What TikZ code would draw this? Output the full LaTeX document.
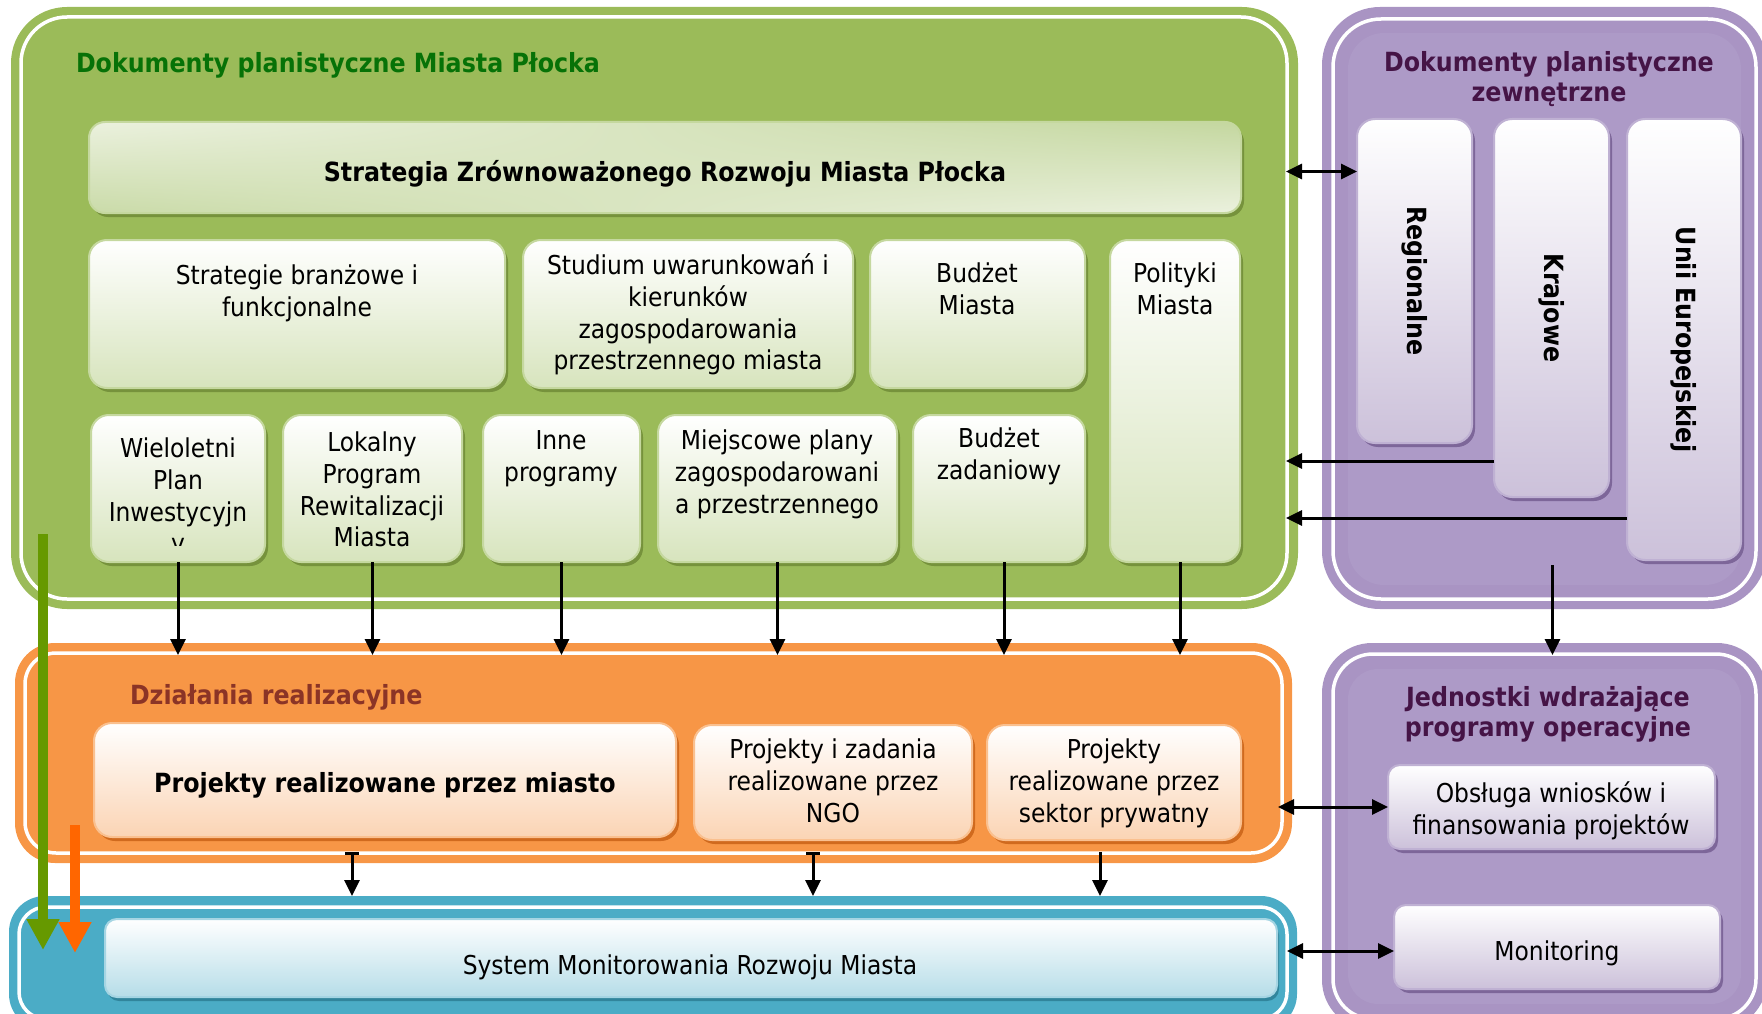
\documentclass[tikz,border=0pt]{standalone}
\usepackage{fontspec}
\setmainfont{DejaVu Sans Condensed}
\usetikzlibrary{arrows.meta,shadows,shadings,calc}
\definecolor{grn}{HTML}{9BBB59}
\definecolor{gbord}{HTML}{C5D89F}
\definecolor{gbot}{HTML}{D7E4BD}
\definecolor{gshad}{HTML}{76923C}
\definecolor{stlight}{HTML}{EBF1DE}
\definecolor{stdark}{HTML}{C4D79F}
\definecolor{org}{HTML}{F79646}
\definecolor{obord}{HTML}{FAC08F}
\definecolor{obot}{HTML}{FBD4B4}
\definecolor{oshad}{HTML}{D06A1E}
\definecolor{blu}{HTML}{4BACC6}
\definecolor{bbord}{HTML}{A5D5E3}
\definecolor{bbot}{HTML}{B6DDE8}
\definecolor{bshad}{HTML}{31859C}
\definecolor{pur}{HTML}{A994C3}
\definecolor{purin}{HTML}{AD9AC7}
\definecolor{pbot}{HTML}{CCC1DA}
\definecolor{pbord}{HTML}{BFB1D3}
\definecolor{pshad}{HTML}{7D6699}
\definecolor{gtitle}{HTML}{077207}
\definecolor{otitle}{HTML}{8B3426}
\definecolor{ptitle}{HTML}{451446}
\definecolor{garr}{HTML}{669900}
\definecolor{oarr}{HTML}{FF6600}
\tikzset{
  every node/.style={inner sep=0pt,outer sep=0pt},
  rf/.style={font=\fontsize{26}{31.7}\selectfont,align=center},
  bf/.style={font=\bfseries\fontsize{26.4}{30.5}\selectfont,align=center},
  panel/.style={anchor=north west,fill=#1,draw=none},
  wline/.style={draw=white,line width=3.5pt},
  boxbase/.style={anchor=north west,line width=2pt},
  gbox/.style={boxbase,rounded corners=18pt,draw=gbord,top color=white,bottom color=gbot,
    drop shadow={shadow xshift=3pt,shadow yshift=-4pt,fill=gshad,opacity=1}},
  stbox/.style={boxbase,rounded corners=16pt,draw=gbord,
    upper left=stlight,upper right=stdark,lower left=stdark!85!stlight,lower right=stlight,
    drop shadow={shadow xshift=3pt,shadow yshift=-4pt,fill=gshad,opacity=1}},
  obox/.style={boxbase,rounded corners=18pt,draw=obord,top color=white,bottom color=obot,
    drop shadow={shadow xshift=3pt,shadow yshift=-4pt,fill=oshad,opacity=1}},
  pbox/.style={boxbase,rounded corners=18pt,draw=pbord,top color=white,bottom color=pbot,
    drop shadow={shadow xshift=3pt,shadow yshift=-4pt,fill=pshad,opacity=1}},
  bbox/.style={boxbase,rounded corners=12pt,draw=bbord,top color=white,bottom color=bbot,
    drop shadow={shadow xshift=2pt,shadow yshift=-4pt,fill=bshad,opacity=1}},
  arr/.style={line width=3pt,-{Triangle[length=16pt,width=15pt]}},
  arrbar/.style={line width=3pt,{Bar[width=14pt]}-{Triangle[length=16pt,width=15pt]}},
  darr/.style={line width=3pt,{Triangle[length=16pt,width=15pt]}-{Triangle[length=16pt,width=15pt]}},
}
\begin{document}
\begin{tikzpicture}[x=1pt,y=-1pt]
\useasboundingbox (0,0) rectangle (1762,1014);
\clip (0,0) rectangle (1762,1014);
% ---------- panels ----------
\node[panel=grn,rounded corners=56pt,minimum width=1287pt,minimum height=602pt] (gp) at (11,7) {};
\draw[wline,rounded corners=46pt] ([shift={(10pt,-10pt)}]gp.north west) rectangle ([shift={(-11pt,10pt)}]gp.south east);
\node[panel=org,rounded corners=40pt,minimum width=1277pt,minimum height=220pt] (op) at (15,643) {};
\draw[wline,rounded corners=31pt] ([shift={(10pt,-10pt)}]op.north west) rectangle ([shift={(-10pt,10pt)}]op.south east);
\node[panel=blu,rounded corners=36pt,minimum width=1288pt,minimum height=134pt] (bl) at (9,896) {};
\draw[wline,rounded corners=27pt] ([shift={(10pt,-11pt)}]bl.north west) rectangle ([shift={(-10pt,11pt)}]bl.south east);
\node[panel=pur,rounded corners=58pt,minimum width=445pt,minimum height=602pt] (pt) at (1322,7) {};
\draw[wline,rounded corners=48pt] ([shift={(11pt,-12pt)}]pt.north west) rectangle ([shift={(-11pt,10pt)}]pt.south east);
\fill[purin,rounded corners=36pt] ([shift={(26pt,-26pt)}]pt.north west) rectangle ([shift={(-26pt,24pt)}]pt.south east);
\node[panel=pur,rounded corners=50pt,minimum width=445pt,minimum height=387pt] (pb) at (1322,643) {};
\draw[wline,rounded corners=40pt] ([shift={(11pt,-11pt)}]pb.north west) rectangle ([shift={(-11pt,11pt)}]pb.south east);
\fill[purin,rounded corners=30pt] ([shift={(26pt,-26pt)}]pb.north west) rectangle ([shift={(-26pt,26pt)}]pb.south east);
% ---------- green boxes ----------
\node[stbox,minimum width=1152pt,minimum height=91pt] (st) at (89,122) {};
\node[gbox,minimum width=416pt,minimum height=148pt] (sb) at (89,240) {};
\node[gbox,minimum width=330pt,minimum height=148pt] (su) at (523,240) {};
\node[gbox,minimum width=215pt,minimum height=148pt] (bm) at (870,240) {};
\node[gbox,minimum width=130pt,minimum height=322pt] (pol) at (1110,240) {};
\node[gbox,minimum width=174pt,minimum height=147pt] (wp) at (91,415) {};
\node[gbox,minimum width=179pt,minimum height=147pt] (lp) at (283,415) {};
\node[gbox,minimum width=157pt,minimum height=147pt] (ip) at (483,415) {};
\node[gbox,minimum width=239pt,minimum height=147pt] (mp) at (658,415) {};
\node[gbox,minimum width=172pt,minimum height=147pt] (bz) at (913,415) {};
% ---------- orange boxes ----------
\node[obox,minimum width=582pt,minimum height=114pt] (pm) at (94,723) {};
\node[obox,minimum width=278pt,minimum height=115pt] (ngo) at (694,725) {};
\node[obox,minimum width=254pt,minimum height=115pt] (sek) at (987,725) {};
% ---------- blue box ----------
\node[bbox,minimum width=1172pt,minimum height=78pt] (sm) at (105,919) {};
% ---------- purple boxes ----------
\node[pbox,minimum width=115pt,minimum height=324pt] (reg) at (1357,119) {};
\node[pbox,minimum width=115pt,minimum height=378pt] (kr) at (1494,119) {};
\node[pbox,minimum width=114pt,minimum height=441pt] (eu) at (1627,119) {};
\node[pbox,rounded corners=12pt,minimum width=327pt,minimum height=84pt] (ob) at (1388,765) {};
\node[pbox,rounded corners=12pt,minimum width=326pt,minimum height=84pt] (mo) at (1394,905) {};
% ---------- titles ----------
\node[bf,text=gtitle,anchor=base west] (gT) at (76,73) {Dokumenty planistyczne Miasta Płocka};
\node[bf,text=otitle,anchor=base west] (oTt) at (130,704) {Działania realizacyjne};
\node[bf,text=ptitle,anchor=north] (ptT) at (1549,51) {Dokumenty planistyczne\\zewnętrzne};
\node[bf,text=ptitle,anchor=north] (pbT) at (1548,686) {Jednostki wdrażające\\programy operacyjne};
% ---------- texts ----------
\node[bf,anchor=base] (stT) at (665,182) {Strategia Zrównoważonego Rozwoju Miasta Płocka};
\node[rf,anchor=north] (sbT) at (297,265) {Strategie branżowe i\\funkcjonalne};
\node[rf,anchor=north] (suT) at (688,254) {Studium uwarunkowań i\\kierunków\\zagospodarowania\\przestrzennego miasta};
\node[rf,anchor=north] (bmT) at (977,263) {Budżet\\Miasta};
\node[rf,anchor=north] (polT) at (1175,263) {Polityki\\Miasta};
\begin{scope}
\clip (wp.north west) rectangle ([yshift=17pt]wp.south east);
\node[rf,anchor=north] (wpT) at (178,438) {Wieloletni\\Plan\\Inwestycyjn\\y};
\end{scope}
\node[rf,anchor=north] (lpT) at (372,432) {Lokalny\\Program\\Rewitalizacji\\Miasta};
\node[rf,anchor=north] (ipT) at (561,431) {Inne\\programy};
\node[rf,anchor=north] (mpT) at (777,430) {Miejscowe plany\\zagospodarowani\\a przestrzennego};
\node[rf,anchor=north] (bzT) at (999,428) {Budżet\\zadaniowy};
\node[bf,anchor=base] (pmT) at (385,792) {Projekty realizowane przez miasto};
\node[rf,anchor=north] (ngoT) at (833,739) {Projekty i zadania\\realizowane przez\\NGO};
\node[rf,anchor=north] (sekT) at (1114,739) {Projekty\\realizowane przez\\sektor prywatny};
\node[rf,anchor=base] (smT) at (690,974) {System Monitorowania Rozwoju Miasta};
\node[bf,rotate=-90] (regT) at (reg.center) {Regionalne};
\node[bf,rotate=-90] (krT) at (kr.center) {Krajowe};
\node[bf,rotate=-90] (euT) at (eu.center) {Unii Europejskiej};
\node[rf,anchor=north] (obT) at (1551,782) {Obsługa wniosków i\\finansowania projektów};
\node[rf,anchor=base] (moT) at (1557,960) {Monitoring};
% ---------- connectors ----------
\coordinate (oT) at ([yshift=-12pt]op.north);
\foreach \n in {wp,lp,ip,mp} \draw[arr] (\n.south) -- (\n.south |- oT);
\coordinate (bzA) at ([xshift=5pt]bz.south);
\draw[arr] (bzA) -- (bzA |- oT);
\coordinate (polA) at ([xshift=5pt]pol.south);
\draw[arr] (polA) -- (polA |- oT);
\coordinate (oB) at ([yshift=11pt]op.south);
\coordinate (a1) at ([xshift=-33pt]pm.south);
\draw[arrbar] (a1 |- oB) -- (a1 |- bl.north);
\coordinate (a2) at ([xshift=-20pt]ngo.south);
\draw[arrbar] (a2 |- oB) -- (a2 |- bl.north);
\coordinate (a3) at ([xshift=-14pt]sek.south);
\draw[arr] (a3 |- oB) -- (a3 |- bl.north);
\coordinate (gR) at ([xshift=-12pt]gp.east);
\coordinate (sA) at ([yshift=-4pt]st.east);
\draw[darr] (sA -| gR) -- (sA -| reg.west);
\coordinate (kA) at ([yshift=36pt]kr.south west);
\draw[arr] (kA) -- (kA -| gR);
\coordinate (eA) at ([yshift=42pt]eu.south west);
\draw[arr] (eA) -- (eA -| gR);
\coordinate (pA) at ([xshift=8pt,yshift=44pt]pt.south);
\coordinate (pbTop) at ([yshift=-12pt]pb.north);
\draw[arr] (pA) -- (pA |- pbTop);
\coordinate (oR) at ([xshift=-14pt]op.east);
\draw[darr] (ob.west -| oR) -- (ob.west);
\coordinate (bR) at ([xshift=-10pt]bl.east);
\coordinate (mW) at ([yshift=-4pt]mo.west);
\draw[darr] (mW -| bR) -- (mW);
% ---------- big arrows ----------
\coordinate (gA1) at (43,534);
\coordinate (gA2) at (43,950);
\draw[draw=garr,line width=10pt,-{Triangle[length=31pt,width=31pt]}] (gA1) -- (gA2);
\coordinate (oA1) at (75,825);
\coordinate (oA2) at (75,953);
\draw[draw=oarr,line width=10pt,-{Triangle[length=31pt,width=31pt]}] (oA1) -- (oA2);
\end{tikzpicture}
\end{document}
